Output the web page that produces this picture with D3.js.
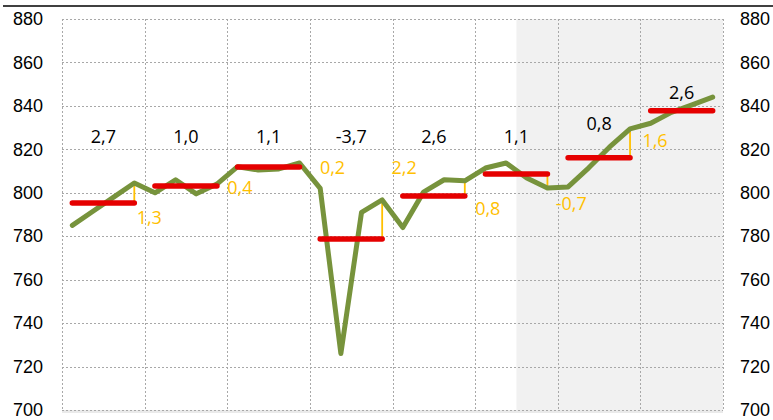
<!DOCTYPE html>
<html>
<head>
<meta charset="utf-8">
<script src="https://cdn.jsdelivr.net/npm/d3@7"></script>
<style>
  body { margin: 0; background: #fff; }
  svg { display: block; font-family: "Open Sans", "Noto Sans", sans-serif; }
  .tick text { font-size: 18px; fill: #000; }
</style>
</head>
<body>
<div id="chart"></div>
<script>
// Jahre (Kategorien) und Quartale
const years = [2017, 2018, 2019, 2020, 2021, 2022, 2023, 2024];
const quarters = ["Q1", "Q2", "Q3", "Q4"];

// Quartalswerte (grüne Linie), je Jahr 4 Werte
const quarterly = [
    785, 791.5, 798, 804.5,
    800, 806, 799.5, 804,
    812, 810.5, 811, 813.7,
    802, 726, 791, 796.7,
    784, 800.3, 806, 805.5,
    811.4, 813.7, 806.8, 802.2,
    802.7, 811.5, 821, 829.4,
    832, 837, 840.5, 844
];

// Jahresdurchschnitte (rote Balken)
const annualAvg = [795.3, 803.1, 811.9, 778.7, 798.5, 808.6, 816.1, 837.8];

// Jahreswachstum (schwarz) und Überhang (orange)
const growthLabels = ["2,7", "1,0", "1,1", "-3,7", "2,6", "1,1", "0,8", "2,6"];
const overhangLabels = ["1,3", "0,4", "0,2", "2,2", "0,8", "-0,7", "1,6"];

// Prognosebereich ab Quartal
const forecastStart = { year: 2022, quarter: 2 };

const yTicks = [700, 720, 740, 760, 780, 800, 820, 840, 860, 880];

const width = 773, height = 420;
const margin = { left: 62, right: 50, top: 19, bottom: 10 };

const svg = d3.select("#chart").append("svg")
    .attr("width", width)
    .attr("height", height);

const x = d3.scaleBand()
    .domain(years)
    .range([margin.left, width - margin.right])
    .padding(0);

const y = d3.scaleLinear()
    .domain([700, 880])
    .range([height - margin.bottom, margin.top]);

const bw = x.bandwidth();
// x-Position eines Quartals innerhalb des Jahres
const qx = (i) => x(years[Math.floor(i / 4)]) + ((i % 4) + 0.5) * bw / 4;

const x0 = margin.left, x1 = width - margin.right;

// schwarze Linie oben
svg.append("line")
    .attr("x1", 3).attr("x2", width)
    .attr("y1", 6).attr("y2", 6)
    .attr("stroke", "#000").attr("stroke-width", 1.6);

// graue Prognosefläche
const fx = x(forecastStart.year) + forecastStart.quarter * bw / 4;
svg.append("rect")
    .attr("x", fx).attr("y", y(880))
    .attr("width", x1 - fx).attr("height", y(700) - y(880))
    .attr("fill", "#f1f1f1");

// x-Achsenlinie (hellgrau)
svg.append("line")
    .attr("x1", x0).attr("x2", x1)
    .attr("y1", y(700) + 1.5).attr("y2", y(700) + 1.5)
    .attr("stroke", "#eaeaea").attr("stroke-width", 3);

// Gitternetz
const grid = svg.append("g")
    .attr("stroke", "#a8a8a8")
    .attr("stroke-width", 1)
    .attr("stroke-dasharray", "2,2");

grid.selectAll(".h")
    .data(yTicks)
    .enter().append("line")
    .attr("x1", x0).attr("x2", x1)
    .attr("y1", d => Math.round(y(d)) + 0.5)
    .attr("y2", d => Math.round(y(d)) + 0.5);

grid.selectAll(".v")
    .data(years.concat(["end"]))
    .enter().append("line")
    .attr("x1", d => Math.round(d === "end" ? x1 : x(d)) + 0.5)
    .attr("x2", d => Math.round(d === "end" ? x1 : x(d)) + 0.5)
    .attr("y1", y(880)).attr("y2", y(700));

// Achsenbeschriftungen links und rechts
svg.append("g")
    .attr("transform", `translate(${x0},0)`)
    .call(d3.axisLeft(y).tickValues(yTicks).tickSize(0).tickPadding(19))
    .call(g => g.select(".domain").remove());

svg.append("g")
    .attr("transform", `translate(${x1},0)`)
    .call(d3.axisRight(y).tickValues(yTicks).tickSize(0).tickPadding(17))
    .call(g => g.select(".domain").remove());

// Überhang: orange senkrechte Linien
const overhangYears = years.slice(0, overhangLabels.length);
svg.append("g").selectAll("line")
    .data(overhangYears)
    .enter().append("line")
    .attr("x1", (d, i) => qx(i * 4 + 3))
    .attr("x2", (d, i) => qx(i * 4 + 3))
    .attr("y1", (d, i) => y(annualAvg[i]))
    .attr("y2", (d, i) => y(quarterly[i * 4 + 3]))
    .attr("stroke", "#ffc000")
    .attr("stroke-width", 1.8);

// grüne Quartalslinie
svg.append("path")
    .datum(quarterly)
    .attr("fill", "none")
    .attr("stroke", "#77933c")
    .attr("stroke-width", 5)
    .attr("stroke-linejoin", "round")
    .attr("stroke-linecap", "round")
    .attr("d", d3.line().x((d, i) => qx(i)).y(d => y(d)));

// rote Jahresdurchschnitte
svg.append("g").selectAll("line")
    .data(annualAvg)
    .enter().append("line")
    .attr("x1", (d, i) => qx(i * 4))
    .attr("x2", (d, i) => qx(i * 4 + 3))
    .attr("y1", d => y(d))
    .attr("y2", d => y(d))
    .attr("stroke", "#e50000")
    .attr("stroke-width", 5.5)
    .attr("stroke-linecap", "round");

// schwarze Wachstumsbeschriftungen über dem Jahr
svg.append("g").selectAll("text")
    .data(growthLabels)
    .enter().append("text")
    .attr("x", (d, i) => x(years[i]) + bw / 2)
    .attr("y", (d, i) => {
        const yearMax = d3.max(quarterly.slice(i * 4, i * 4 + 4));
        return y(Math.max(826, yearMax + 2.5));
    })
    .attr("text-anchor", "middle")
    .attr("dominant-baseline", "central")
    .attr("font-size", 18)
    .attr("fill", "#000")
    .text(d => d);

// orange Überhangbeschriftungen (Versatz in px zum Jahresende / Durchschnitt)
const overhangNudge = [[-8, 14], [0, 1], [10, 0], [-1, -72], [0, 12], [-2, 29], [2, -18]];
svg.append("g").selectAll("text")
    .data(overhangLabels)
    .enter().append("text")
    .attr("x", (d, i) => x(years[i]) + bw + overhangNudge[i][0])
    .attr("y", (d, i) => y(annualAvg[i]) + overhangNudge[i][1])
    .attr("dominant-baseline", "central")
    .attr("font-size", 18)
    .attr("fill", "#ffc000")
    .text(d => d);
</script>
</body>
</html>
